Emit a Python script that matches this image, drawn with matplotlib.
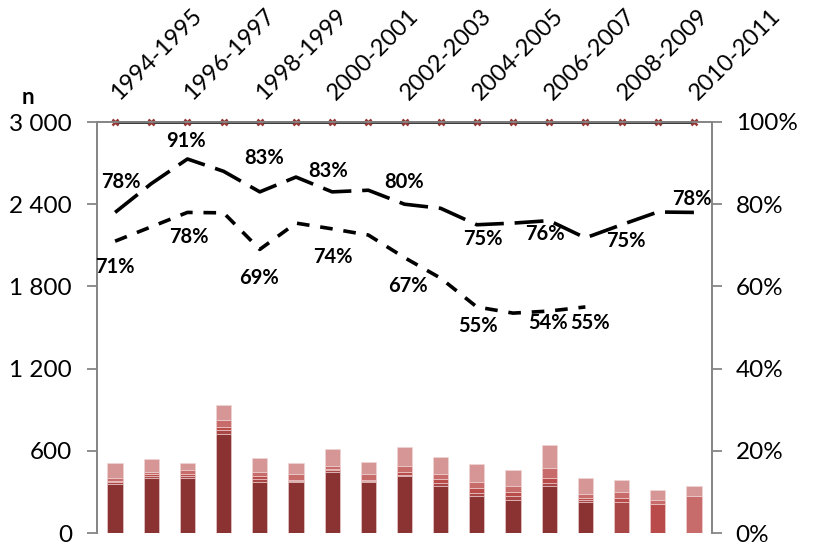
import numpy as np
import matplotlib
matplotlib.use("Agg")
import matplotlib.pyplot as plt
import matplotlib.ticker as mtick

plt.rcParams['font.family'] = ['Lato', 'DejaVu Sans']

# categories (one per year), top labels every two years
years = list(range(1994, 2011))
period_labels = ['1994-1995', '1996-1997', '1998-1999', '2000-2001', '2002-2003',
                 '2004-2005', '2006-2007', '2008-2009', '2010-2011']

# stacked bar segments (n), bottom to top
seg1 = [356, 403, 403, 725, 373, 373, 447, 373, 415, 342, 268, 239, 342, 224, 0, 0, 0]
seg2 = [15, 15, 10, 25, 22, 8, 10, 8, 12, 20, 25, 30, 20, 15, 227, 0, 0]
seg3 = [10, 16, 19, 21, 22, 9, 10, 9, 20, 29, 36, 31, 41, 19, 32, 212, 0]
seg4 = [20, 10, 27, 56, 29, 41, 21, 41, 41, 39, 41, 41, 71, 24, 41, 29, 268]
seg5 = [107, 93, 51, 105, 105, 78, 122, 90, 137, 122, 137, 122, 166, 122, 90, 76, 78]
seg_colors = ['#8B3232', '#A94646', '#B94C4A', '#C86B6B', '#D69696']

# reference series at the top of the scale
top_ref = [3000] * 17

# percentage lines
pct_upper = [78, 85, 91, 88, 83, 86.6, 83, 83.4, 80, 79, 75, 75.4, 76, 71.8, 75, 78.1, 78]
pct_lower = [71, 74.5, 78, 77.9, 69, 75.4, 74, 72.5, 67, 62, 55, 53.5, 54, 55,
             np.nan, np.nan, np.nan]

# label offsets (px) for the percentage labels
upper_off = {0: (6, 30), 2: (-2, 18), 4: (4, 34), 6: (-4, 21), 8: (0, 22),
             10: (6, -14), 12: (-4, -13), 14: (4, -16), 16: (-2, 13)}
lower_off = {0: (0, -26), 2: (1, -25), 4: (-1, -29), 6: (1, -28), 8: (3, -28),
             10: (1, -19), 12: (-1, -12), 13: (5, -16)}

W, H = 827, 548
fig = plt.figure(figsize=(W / 100, H / 100), dpi=100)
ax = fig.add_axes([97 / W, 1 - 533 / H, (712 - 97) / W, (533 - 122) / H])
ax2 = ax.twinx()

x = np.arange(len(years))
bottom = np.zeros(len(years))
for seg, c in zip([seg1, seg2, seg3, seg4, seg5], seg_colors):
    ax.bar(x, seg, width=0.42, bottom=bottom, color=c, edgecolor='#f0d6d6', linewidth=0.4)
    bottom += np.array(seg)

ax.plot(x, top_ref, color='black', lw=1.8, marker='x', ms=5, mew=1.8, mec='#953735',
        clip_on=False, zorder=5)

ax.set_xlim(-0.5, len(years) - 0.5)
ax.set_ylim(0, 3000)
ax.set_yticks([0, 600, 1200, 1800, 2400, 3000])
ax.yaxis.set_major_formatter(mtick.FuncFormatter(lambda v, p: f"{v:,.0f}".replace(',', ' ')))

gray = '#868686'
for a in (ax, ax2):
    a.spines['bottom'].set_visible(False)
    a.spines['top'].set_color(gray)
    a.spines['left'].set_color(gray)
    a.spines['right'].set_color(gray)
    for s in a.spines.values():
        s.set_linewidth(1.3)
    a.set_xticks([])

ax.tick_params(axis='y', direction='out', length=7, width=1.3, color=gray,
               labelsize=17.5, pad=11)
ax2.tick_params(axis='y', direction='out', length=7, width=1.3, color=gray,
                labelsize=17.5, pad=10)

ax2.set_ylim(0, 100)
ax2.set_yticks([0, 20, 40, 60, 80, 100])
ax2.yaxis.set_major_formatter(mtick.FuncFormatter(lambda v, p: f"{v:.0f}%"))

ax2.plot(x, pct_upper, color='black', lw=2.6, dashes=(8, 3), zorder=3)
ax2.plot(x, pct_lower, color='black', lw=2.6, dashes=(3.5, 3), zorder=3)

for i, (dx, dy) in upper_off.items():
    ax2.annotate(f"{pct_upper[i]:.0f}%", (x[i], pct_upper[i]), xytext=(dx * 0.72, dy * 0.72),
                 textcoords='offset points', ha='center', va='center',
                 fontsize=14.5, fontweight='bold')
for i, (dx, dy) in lower_off.items():
    ax2.annotate(f"{pct_lower[i]:.0f}%", (x[i], pct_lower[i]), xytext=(dx * 0.72, dy * 0.72),
                 textcoords='offset points', ha='center', va='center',
                 fontsize=14.5, fontweight='bold')

# period labels along the top
for k, lab in enumerate(period_labels):
    ax.annotate(lab, (x[2 * k], 3000), xytext=(3, 15), textcoords='offset points',
                rotation=45, rotation_mode='anchor', ha='left', va='baseline',
                fontsize=17, annotation_clip=False)

fig.text(28 / W, 1 - 98 / H, 'n', ha='center', va='center', fontsize=16, fontweight='bold')

fig.savefig('out.png', dpi=100)
